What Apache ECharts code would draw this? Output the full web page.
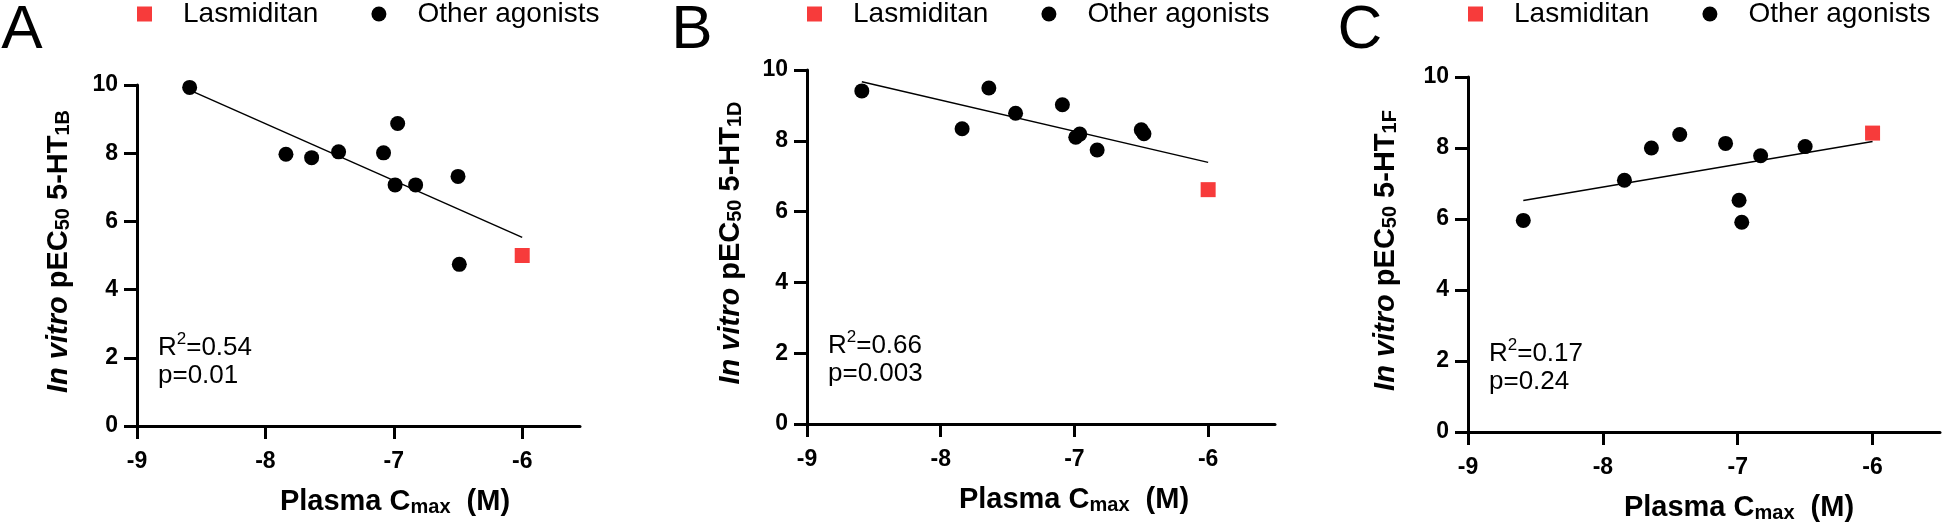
<!DOCTYPE html>
<html><head><meta charset="utf-8">
<script src="https://cdn.jsdelivr.net/npm/echarts@6/dist/echarts.min.js"></script>
<style>html,body{margin:0;padding:0;background:#fff}#c{width:1943px;height:530px}</style>
</head><body><div id="c"></div>
<script>
// ---------- data ----------
const xTickValues = [-9, -8, -7, -6];
const yTickValues = [0, 2, 4, 6, 8, 10];
const panelLetters = ['A', 'B', 'C'];
const receptorSubs = ['1B', '1D', '1F'];
const r2Labels = ['0.54', '0.66', '0.17'];
const pLabels = ['0.01', '0.003', '0.24'];

const agonistCmaxA = [-8.59, -7.84, -7.64, -7.43, -7.08, -6.97, -6.99, -6.83, -6.50, -6.49];
const agonistPec50A = [9.93, 7.97, 7.87, 8.04, 8.01, 8.87, 7.07, 7.07, 7.32, 4.74];
const lasmiditanA = [-6.0, 5.0];
const fitA = [[-8.59, 9.85], [-6.0, 5.53]];

const agonistCmaxB = [-8.59, -7.84, -7.64, -7.44, -7.09, -6.99, -6.96, -6.83, -6.50, -6.48];
const agonistPec50B = [9.41, 8.34, 9.49, 8.78, 9.02, 8.10, 8.19, 7.74, 8.31, 8.20];
const lasmiditanB = [-6.0, 6.62];
const fitB = [[-8.59, 9.67], [-6.0, 7.39]];

const agonistCmaxC = [-8.59, -7.84, -7.64, -7.43, -7.09, -6.99, -6.97, -6.83, -6.50];
const agonistPec50C = [5.96, 7.09, 8.00, 8.38, 8.13, 6.53, 5.91, 7.78, 8.04];
const lasmiditanC = [-6.0, 8.42];
const fitC = [[-8.59, 6.52], [-6.0, 8.18]];

// ---------- layout ----------
const FONT = '"Liberation Sans", Arial, sans-serif';
const grids = [
  {left: 137, top: 85, width: 443, height: 341, xmax: -5.55},
  {left: 807, top: 70, width: 468, height: 354, xmax: -5.5},
  {left: 1468, top: 77, width: 472, height: 355, xmax: -5.5}
];
const panels = [
  {x: agonistCmaxA, y: agonistPec50A, las: lasmiditanA, fit: fitA},
  {x: agonistCmaxB, y: agonistPec50B, las: lasmiditanB, fit: fitB},
  {x: agonistCmaxC, y: agonistPec50C, las: lasmiditanC, fit: fitC}
];
const letterX = [22, 692, 1360];
const yTitleX = [59, 731, 1386];
const xTitleX = [395, 1074, 1739];
const RED = '#f73b3b';

const axisCommon = {
  axisLine: {lineStyle: {color: '#000', width: 3}},
  axisTick: {length: 13, lineStyle: {color: '#000', width: 3}},
  splitLine: {show: false}
};

const option = {
  animation: false,
  backgroundColor: '#fff',
  grid: grids.map(g => ({left: g.left, top: g.top, width: g.width, height: g.height})),
  xAxis: grids.map((g, i) => Object.assign({}, axisCommon, {
    type: 'value', gridIndex: i, min: -9, max: g.xmax, interval: 1,
    axisTick: Object.assign({}, axisCommon.axisTick, {customValues: xTickValues}),
    axisLabel: {customValues: xTickValues, fontSize: 23, fontWeight: 'bold', fontFamily: FONT, color: '#000', margin: 24}
  })),
  yAxis: grids.map((g, i) => Object.assign({}, axisCommon, {
    type: 'value', gridIndex: i, min: 0, max: 10, interval: 2,
    axisTick: Object.assign({}, axisCommon.axisTick, {customValues: yTickValues}),
    axisLabel: {customValues: yTickValues, fontSize: 23, fontWeight: 'bold', fontFamily: FONT, color: '#000', margin: 19}
  })),
  legend: grids.map(g => ({
    left: g.left, top: 0, padding: 0, itemWidth: 15, itemHeight: 15, itemGap: 53,
    selectedMode: false,
    data: ['Lasmiditan', 'Other agonists'],
    textStyle: {fontSize: 28, lineHeight: 28, fontFamily: FONT, color: '#000', padding: [0, 0, 0, 26]}
  })),
  series: [],
  graphic: []
};

panels.forEach((p, i) => {
  option.series.push({
    name: 'fit', type: 'line', xAxisIndex: i, yAxisIndex: i, data: p.fit,
    symbol: 'none', silent: true, lineStyle: {color: '#000', width: 1.5}, z: 1
  });
  option.series.push({
    name: 'Other agonists', type: 'scatter', xAxisIndex: i, yAxisIndex: i,
    data: p.x.map((v, k) => [v, p.y[k]]),
    symbol: 'circle', symbolSize: 15, itemStyle: {color: '#000', opacity: 1}, z: 3
  });
  option.series.push({
    name: 'Lasmiditan', type: 'scatter', xAxisIndex: i, yAxisIndex: i,
    data: [p.las],
    symbol: 'rect', symbolSize: 15, itemStyle: {color: RED, opacity: 1}, z: 3
  });

  const g = grids[i];
  const axisY = g.top + g.height;
  option.graphic.push({type: 'text', x: letterX[i], y: 31, style: {
    text: panelLetters[i], fontSize: 62, fontFamily: FONT, fill: '#000', align: 'center', verticalAlign: 'middle'}});
  option.graphic.push({type: 'text', x: g.left + 21, y: axisY - 82, style: {
    text: '{m|R}{sup|2}{m|=' + r2Labels[i] + '}', align: 'left', verticalAlign: 'middle',
    fontSize: 26, fontFamily: FONT, fill: '#000',
    rich: {
      m: {fontSize: 26, fontFamily: FONT, fill: '#000', lineHeight: 26, padding: [4, 0, 0, 0], verticalAlign: 'top'},
      sup: {fontSize: 17, fontFamily: FONT, fill: '#000', lineHeight: 17, verticalAlign: 'top'}
    }}});
  option.graphic.push({type: 'text', x: g.left + 21, y: axisY - 50, style: {
    text: 'p=' + pLabels[i], align: 'left', verticalAlign: 'middle', fontSize: 26, fontFamily: FONT, fill: '#000'}});
  option.graphic.push({type: 'text', x: yTitleX[i], y: g.top + g.height / 2 - 4, rotation: Math.PI / 2, style: {
    text: '{it|In vitro }{b|pEC}{s|50}{b| 5-HT}{s|' + receptorSubs[i] + '}',
    align: 'center', verticalAlign: 'middle', fontFamily: FONT, fill: '#000',
    rich: {
      it: {fontSize: 29, fontWeight: 'bold', fontStyle: 'italic', fontFamily: FONT, fill: '#000', lineHeight: 29, verticalAlign: 'top'},
      b: {fontSize: 29, fontWeight: 'bold', fontFamily: FONT, fill: '#000', lineHeight: 29, verticalAlign: 'top'},
      s: {fontSize: 20, fontWeight: 'bold', fontFamily: FONT, fill: '#000', lineHeight: 20, padding: [13, 0, 0, 0], verticalAlign: 'bottom'}
    }}});
  option.graphic.push({type: 'text', x: xTitleX[i], y: axisY + 76, style: {
    text: '{b|Plasma C}{s|max}{b|  (M)}',
    align: 'center', verticalAlign: 'middle', fontFamily: FONT, fill: '#000',
    rich: {
      b: {fontSize: 29, fontWeight: 'bold', fontFamily: FONT, fill: '#000', lineHeight: 30, verticalAlign: 'top'},
      s: {fontSize: 20, fontWeight: 'bold', fontFamily: FONT, fill: '#000', lineHeight: 20, padding: [14, 0, 0, 0], verticalAlign: 'bottom'}
    }}});
});

const chart = echarts.init(document.getElementById('c'), null, {renderer: 'canvas'});
chart.setOption(option);
</script>
</body></html>
